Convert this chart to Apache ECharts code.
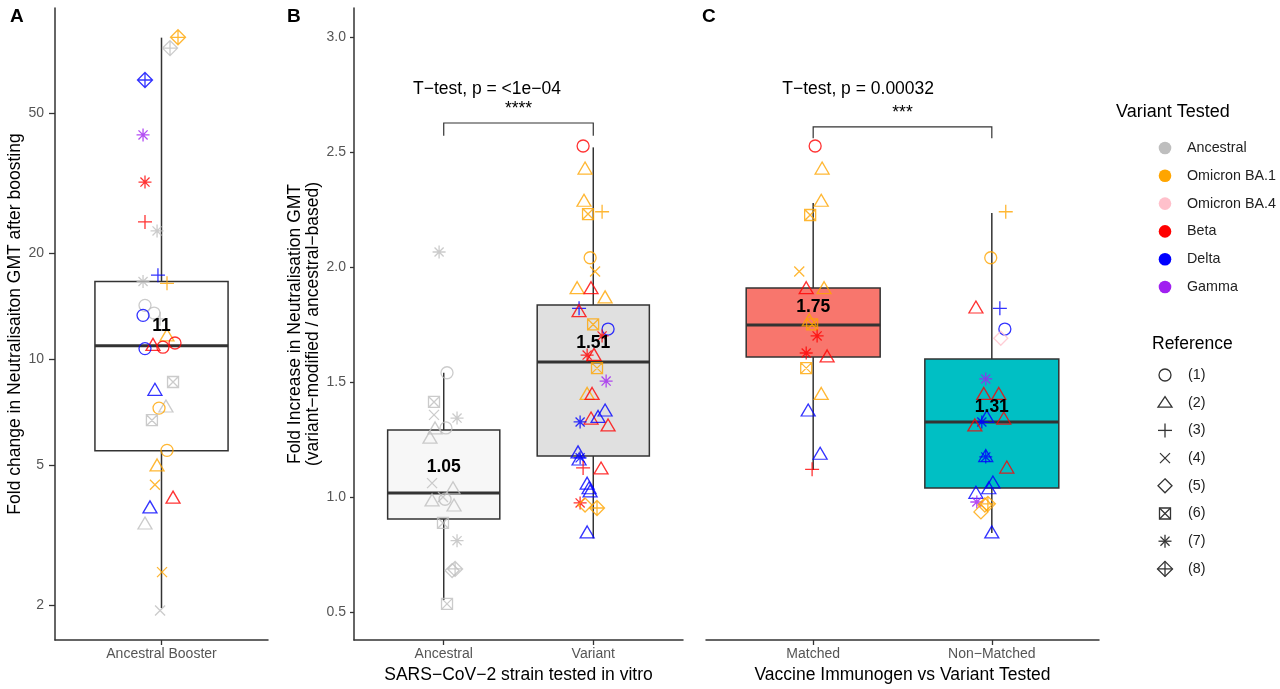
<!DOCTYPE html>
<html>
<head>
<meta charset="utf-8">
<script src="https://cdn.jsdelivr.net/npm/echarts@6/dist/echarts.min.js"></script>
<style>html,body{margin:0;padding:0;background:#fff}#chart{width:1280px;height:689px}</style>
</head>
<body>
<div id="chart"></div>
<script>
// ---------------- DATA ----------------
const variantCodes = ['Anc', 'BA.1', 'BA.4', 'Beta', 'Delta', 'Gamma'];
const variantNames = ['Ancestral', 'Omicron BA.1', 'Omicron BA.4', 'Beta', 'Delta', 'Gamma'];
const variantColors = ['#BEBEBE', '#FFA500', '#FFC0CB', '#FF0000', '#0000FF', '#A020F0'];
const referenceLabels = ['(1)', '(2)', '(3)', '(4)', '(5)', '(6)', '(7)', '(8)'];

// Panel A: fold change after ancestral booster (log scale)
const A_categories = ['Ancestral Booster'];
const A_ticks = [2, 5, 10, 20, 50];
const A_variant = ['BA.1','Anc','Delta','Gamma','Beta','Beta','Anc','Anc','Delta','BA.1','Anc','Anc','Delta','Anc','BA.1','Beta','Delta','Beta','Beta','Anc','Delta','Anc','BA.1','Anc','BA.1','BA.1','BA.1','Beta','Delta','Anc','BA.1','Anc'];
const A_reference = [8,8,8,7,7,3,7,7,3,3,1,1,1,3,2,2,1,1,1,6,2,2,1,6,1,2,4,2,2,2,4,4];
const A_fold = [82,76.4,62,43.3,31.8,24.5,23.1,16.6,17.3,16.4,14.2,13.5,13.3,13.0,11.7,11.0,10.7,10.8,11.1,8.6,8.2,7.35,7.25,6.7,5.5,5.0,4.39,4.05,3.8,3.42,2.48,1.93];
const A_group = A_fold.map(() => 1);
const A_jitter = [0.093,0.048,-0.093,-0.104,-0.093,-0.093,-0.025,-0.104,-0.020,0.031,-0.093,-0.042,-0.104,-0.008,0.031,-0.048,-0.093,0.008,0.076,0.065,-0.037,0.025,-0.014,-0.054,0.031,-0.025,-0.037,0.065,-0.065,-0.093,0.003,-0.008];
const A_boxStats = [[1.96, 5.49, 10.9, 16.6, 81.8]];
const A_meanText = ['11'];
const A_meanAt = [12.4];

// Panel B: strain tested in vitro
const B_categories = ['Ancestral', 'Variant'];
const BC_ticks = [0.5, 1.0, 1.5, 2.0, 2.5, 3.0];
const B_variant = [
  'Anc','Anc','Anc','Anc','Anc','Anc','Anc','Anc','Anc','Anc','Anc','Anc','Anc','Anc','Anc','Anc','Anc','Anc','Anc',
  'Beta','BA.1','BA.1','BA.1','BA.1','BA.1','BA.1','BA.1','Beta','BA.1','Delta','Beta','BA.1','Delta','Beta','Beta','Beta','BA.1','Gamma','BA.1',
  'Beta','Delta','Beta','Delta','Delta','Beta','Delta','Delta','Delta','Beta','Beta','Delta','Delta','Delta','Beta','BA.1','BA.1','Delta'];
const B_reference = [
  7,1,6,4,7,2,1,2,4,2,2,4,2,1,6,7,8,5,6,
  1,2,2,6,3,1,4,2,2,2,3,2,6,1,7,7,2,6,7,2,
  2,2,2,2,7,2,2,2,7,3,2,2,2,2,7,5,8,2];
const B_fold = [
  2.065,1.54,1.413,1.357,1.343,1.30,1.30,1.26,1.06,1.04,0.987,1.0,0.965,0.99,0.887,0.81,0.687,0.68,0.535,
  2.526,2.43,2.29,2.23,2.24,2.04,1.98,1.91,1.91,1.87,1.82,1.81,1.75,1.73,1.70,1.617,1.62,1.56,1.504,1.45,
  1.45,1.378,1.343,1.35,1.326,1.313,1.196,1.165,1.17,1.126,1.126,1.06,1.026,1.04,0.974,0.965,0.952,0.848];
const B_group = [
  1,1,1,1,1,1,1,1,1,1,1,1,1,1,1,1,1,1,1,
  2,2,2,2,2,2,2,2,2,2,2,2,2,2,2,2,2,2,2,2,
  2,2,2,2,2,2,2,2,2,2,2,2,2,2,2,2,2,2];
const B_jitter = [
  -0.031,0.022,-0.065,-0.065,0.089,-0.058,0.015,-0.092,-0.078,0.062,-0.078,-0.005,0.069,0.009,-0.005,0.089,0.076,0.056,0.022,
  -0.068,-0.055,-0.062,-0.035,0.059,-0.021,0.012,-0.108,-0.015,0.079,-0.095,-0.095,-0.001,0.099,0.059,-0.041,0.005,0.025,0.086,-0.041,
  -0.008,0.079,-0.015,0.032,-0.088,0.099,-0.102,-0.095,-0.088,-0.068,0.052,-0.041,-0.021,-0.028,-0.088,-0.055,0.025,-0.041];
const B_boxStats = [[0.552, 0.904, 1.017, 1.291, 1.54], [0.82, 1.178, 1.587, 1.835, 2.52]];
const B_meanText = ['1.05', '1.51'];
const B_meanAt = [1.13, 1.67];
const B_testText = 'T\u2212test, p = <1e\u221204';
const B_stars = '****';

// Panel C: vaccine immunogen vs variant tested
const C_categories = ['Matched', 'Non\u2212Matched'];
const C_variant = [
  'Beta','BA.1','BA.1','BA.1','BA.1','Beta','BA.1','BA.1','BA.1','Beta','Beta','Beta','BA.1','BA.1','Delta','Delta','Beta',
  'BA.1','BA.1','Beta','Delta','Delta','BA.4','Gamma','Beta','Beta','Delta','Delta','Beta','Beta','Delta','Delta','Beta','Delta','Delta','Delta','Gamma','BA.1','BA.1','BA.1','Delta'];
const C_reference = [
  1,2,2,6,4,2,2,6,2,7,7,2,6,2,2,2,3,
  3,1,2,3,1,5,7,2,2,2,7,2,2,7,2,2,2,2,2,7,5,8,5,2];
const C_fold = [
  2.526,2.43,2.29,2.226,1.98,1.91,1.91,1.75,1.77,1.70,1.626,1.613,1.56,1.45,1.378,1.19,1.12,
  2.24,2.04,1.826,1.82,1.73,1.69,1.513,1.45,1.45,1.35,1.326,1.313,1.343,1.174,1.18,1.13,1.065,1.02,1.04,0.978,0.965,0.97,0.935,0.848];
const C_group = [
  1,1,1,1,1,1,1,1,1,1,1,1,1,1,1,1,1,
  2,2,2,2,2,2,2,2,2,2,2,2,2,2,2,2,2,2,2,2,2,2,2,2,2];
const C_jitter = [
  0.011,0.050,0.045,-0.017,-0.078,-0.039,0.061,-0.006,-0.022,0.022,-0.039,0.078,-0.039,0.045,-0.028,0.039,-0.006,
  0.078,-0.006,-0.089,0.045,0.073,0.050,-0.034,-0.045,0.039,-0.028,-0.056,-0.095,0.067,-0.034,-0.034,0.084,0.006,-0.089,-0.017,-0.084,-0.039,-0.022,-0.061,0.000];
const C_boxStats = [[1.117, 1.609, 1.748, 1.909, 2.278], [0.843, 1.039, 1.326, 1.6, 2.235]];
const C_meanText = ['1.75', '1.31'];
const C_meanAt = [1.826, 1.391];
const C_testText = 'T\u2212test, p = 0.00032';
const C_stars = '***';

// ---------------- STYLE ----------------
const FONT = '"Liberation Sans", Arial, Helvetica, sans-serif';
const BOX_HALF = 0.375;
const A_boxFill = ['#FFFFFF'];
const B_boxFill = ['#F7F7F7', '#E0E0E0'];
const C_boxFill = ['#F8766D', '#00BFC4'];
const LINE = '#333333';

const refSymbols = {
  1: { path: 'M0,5A5,5,0,1,1,10,5A5,5,0,1,1,0,5Z', size: [12, 12] },
  2: { path: 'M5,0L10,8.66L0,8.66Z', size: [14, 12] },
  3: { path: 'M5,0L5,10M0,5L10,5', size: [14, 14] },
  4: { path: 'M0,0L10,10M10,0L0,10', size: [10, 10] },
  5: { path: 'M5,0L10,5L5,10L0,5Z', size: [14, 14] },
  6: { path: 'M0,0L10,0L10,10L0,10ZM0,0L10,10M10,0L0,10', size: [11, 11] },
  7: { path: 'M5,0L5,10M0,5L10,5M1.5,1.5L8.5,8.5M8.5,1.5L1.5,8.5', size: [13, 13] },
  8: { path: 'M5,0L10,5L5,10L0,5ZM5,0L5,10M0,5L10,5', size: [15, 15] }
};

function colorOf(code) { return variantColors[variantCodes.indexOf(code)]; }

function pointData(groups, jitter, values, variants, refs, transform) {
  return values.map((v, i) => ({
    value: [groups[i] + jitter[i], transform ? transform(v) : v],
    symbol: 'path://' + refSymbols[refs[i]].path,
    symbolSize: refSymbols[refs[i]].size,
    itemStyle: { color: 'rgba(0,0,0,0)', borderColor: colorOf(variants[i]), borderWidth: 1.3, opacity: 0.8 }
  }));
}

function boxRenderer(fills) {
  return function (params, api) {
    const x = api.value(0), lo = api.value(1), q1 = api.value(2), md = api.value(3), q3 = api.value(4), hi = api.value(5);
    const tl = api.coord([x - BOX_HALF, q3]), br = api.coord([x + BOX_HALF, q1]);
    const mL = api.coord([x - BOX_HALF, md]), mR = api.coord([x + BOX_HALF, md]);
    const wT = api.coord([x, hi]), w3 = api.coord([x, q3]), wB = api.coord([x, lo]), w1 = api.coord([x, q1]);
    const st = { stroke: LINE, lineWidth: 1.5 };
    return { type: 'group', children: [
      { type: 'line', shape: { x1: wT[0], y1: wT[1], x2: w3[0], y2: w3[1] }, style: st },
      { type: 'line', shape: { x1: wB[0], y1: wB[1], x2: w1[0], y2: w1[1] }, style: st },
      { type: 'rect', shape: { x: tl[0], y: tl[1], width: br[0] - tl[0], height: br[1] - tl[1] }, style: { fill: fills[params.dataIndex], stroke: LINE, lineWidth: 1.5 } },
      { type: 'line', shape: { x1: mL[0], y1: mL[1], x2: mR[0], y2: mR[1] }, style: { stroke: LINE, lineWidth: 3 } }
    ] };
  };
}

function textRenderer(texts, opts) {
  return function (params, api) {
    const p = api.coord([api.value(0), api.value(1)]);
    return { type: 'text', x: p[0], y: p[1], style: { text: texts[params.dataIndex], fill: '#000', font: opts.font, align: opts.align || 'center', verticalAlign: 'middle' } };
  };
}

function bracketRenderer(params, api) {
  const x1 = api.value(0), x2 = api.value(1), yT = api.value(2), yK = api.value(3);
  const pts = [api.coord([x1, yK]), api.coord([x1, yT]), api.coord([x2, yT]), api.coord([x2, yK])];
  return { type: 'polyline', shape: { points: pts }, style: { stroke: LINE, lineWidth: 1.2, fill: null } };
}

function boxSeriesData(stats, transform) {
  return stats.map((s, i) => [i + 1].concat(s.map(v => transform ? transform(v) : v)));
}

function xAxisCfg(gridIndex, cats, name) {
  const ticks = cats.map((_, i) => i + 1);
  return {
    type: 'value', gridIndex, min: 0.4, max: cats.length + 0.6,
    splitLine: { show: false },
    axisLine: { show: true, onZero: false, lineStyle: { color: LINE, width: 1.5 } },
    axisTick: { show: true, customValues: ticks, length: 5, lineStyle: { color: LINE, width: 1.3 } },
    axisLabel: { customValues: ticks, formatter: v => cats[Math.round(v) - 1], color: '#555', fontSize: 14, margin: 7, fontFamily: FONT },
    name: name, nameLocation: 'middle', nameGap: 24,
    nameTextStyle: { fontSize: 17.5, color: '#000', fontFamily: FONT, verticalAlign: 'top' }
  };
}

const log10 = v => Math.log10(v);

// legend symbols built from graphic primitives (same outlines as the point symbols)
function legendSymbol(ref, cx, cy) {
  const s = refSymbols[ref];
  const sx = s.size[0] / 10, sy = s.size[1] / 10;
  const x0 = cx - s.size[0] / 2, y0 = cy - s.size[1] / 2;
  const style = { fill: 'none', stroke: '#333', lineWidth: 1.3 };
  if (ref === 1) return [{ type: 'circle', shape: { cx, cy, r: s.size[0] / 2 }, style }];
  const els = [];
  s.path.split('M').filter(Boolean).forEach(seg => {
    const closed = /Z/.test(seg);
    const pts = seg.replace('Z', '').split('L').map(p => {
      const [a, b] = p.split(',').map(Number);
      return [x0 + a * sx, y0 + b * sy];
    });
    els.push({ type: closed ? 'polygon' : 'polyline', shape: { points: pts }, style });
  });
  return els;
}

const option = {
  animation: false,
  textStyle: { fontFamily: FONT },
  grid: [
    { left: 55, top: 8, width: 213, height: 632 },
    { left: 354, top: 8, width: 329, height: 632 },
    { left: 706, top: 8, width: 393, height: 632 }
  ],
  xAxis: [
    xAxisCfg(0, A_categories, ''),
    xAxisCfg(1, B_categories, 'SARS\u2212CoV\u22122 strain tested in vitro'),
    xAxisCfg(2, C_categories, 'Vaccine Immunogen vs Variant Tested')
  ],
  yAxis: [
    {
      type: 'value', gridIndex: 0, min: 0.2016, max: 1.997,
      splitLine: { show: false },
      axisLine: { show: true, onZero: false, lineStyle: { color: LINE, width: 1.5 } },
      axisTick: { show: true, customValues: A_ticks.map(log10), length: 6, lineStyle: { color: LINE, width: 1.3 } },
      axisLabel: { customValues: A_ticks.map(log10), formatter: v => String(Math.round(Math.pow(10, v))), color: '#555', fontSize: 14, margin: 11 },
      name: 'Fold change in Neutralisaiton GMT after boosting', nameLocation: 'middle', nameRotate: 90, nameGap: 27,
      nameTextStyle: { fontSize: 17.5, color: '#000', fontFamily: FONT }
    },
    {
      type: 'value', gridIndex: 1, min: 0.378, max: 3.126,
      splitLine: { show: false },
      axisLine: { show: true, onZero: false, lineStyle: { color: LINE, width: 1.5 } },
      axisTick: { show: true, customValues: BC_ticks, length: 4, lineStyle: { color: LINE, width: 1.3 } },
      axisLabel: { customValues: BC_ticks, formatter: v => v.toFixed(1), color: '#555', fontSize: 14, margin: 8 },
      name: 'Fold Increase in Neutralisation GMT\n(variant\u2212modified / ancestral\u2212based)', nameLocation: 'middle', nameRotate: 90, nameGap: 31,
      nameTextStyle: { fontSize: 17.5, color: '#000', fontFamily: FONT, lineHeight: 18 }
    },
    {
      type: 'value', gridIndex: 2, min: 0.378, max: 3.126,
      splitLine: { show: false },
      axisLine: { show: false },
      axisTick: { show: false }, axisLabel: { show: false }
    }
  ],
  series: [
    { type: 'custom', xAxisIndex: 0, yAxisIndex: 0, z: 1, silent: true, renderItem: boxRenderer(A_boxFill), data: boxSeriesData(A_boxStats, log10) },
    { type: 'custom', xAxisIndex: 1, yAxisIndex: 1, z: 1, silent: true, renderItem: boxRenderer(B_boxFill), data: boxSeriesData(B_boxStats) },
    { type: 'custom', xAxisIndex: 2, yAxisIndex: 2, z: 1, silent: true, renderItem: boxRenderer(C_boxFill), data: boxSeriesData(C_boxStats) },
    { type: 'scatter', xAxisIndex: 0, yAxisIndex: 0, z: 2, silent: true, data: pointData(A_group, A_jitter, A_fold, A_variant, A_reference, log10) },
    { type: 'scatter', xAxisIndex: 1, yAxisIndex: 1, z: 2, silent: true, data: pointData(B_group, B_jitter, B_fold, B_variant, B_reference) },
    { type: 'scatter', xAxisIndex: 2, yAxisIndex: 2, z: 2, silent: true, data: pointData(C_group, C_jitter, C_fold, C_variant, C_reference) },
    { type: 'custom', xAxisIndex: 0, yAxisIndex: 0, z: 3, silent: true, renderItem: textRenderer(A_meanText, { font: 'bold 17.5px ' + FONT }), data: A_meanAt.map((v, i) => [i + 1, log10(v)]) },
    { type: 'custom', xAxisIndex: 1, yAxisIndex: 1, z: 3, silent: true, renderItem: textRenderer(B_meanText, { font: 'bold 17.5px ' + FONT }), data: B_meanAt.map((v, i) => [i + 1, v]) },
    { type: 'custom', xAxisIndex: 2, yAxisIndex: 2, z: 3, silent: true, renderItem: textRenderer(C_meanText, { font: 'bold 17.5px ' + FONT }), data: C_meanAt.map((v, i) => [i + 1, v]) },
    { type: 'custom', xAxisIndex: 1, yAxisIndex: 1, z: 3, silent: true, renderItem: bracketRenderer, data: [[1, 2, 2.626, 2.57]] },
    { type: 'custom', xAxisIndex: 2, yAxisIndex: 2, z: 3, silent: true, renderItem: bracketRenderer, data: [[1, 2, 2.609, 2.56]] },
    { type: 'custom', xAxisIndex: 1, yAxisIndex: 1, z: 3, silent: true, renderItem: textRenderer([B_testText], { font: '17.5px ' + FONT, align: 'left' }), data: [[0.795, 2.774]] },
    { type: 'custom', xAxisIndex: 1, yAxisIndex: 1, z: 3, silent: true, renderItem: textRenderer([B_stars], { font: '17.5px ' + FONT }), data: [[1.5, 2.685]] },
    { type: 'custom', xAxisIndex: 2, yAxisIndex: 2, z: 3, silent: true, renderItem: textRenderer([C_testText], { font: '17.5px ' + FONT, align: 'left' }), data: [[0.827, 2.774]] },
    { type: 'custom', xAxisIndex: 2, yAxisIndex: 2, z: 3, silent: true, renderItem: textRenderer([C_stars], { font: '17.5px ' + FONT }), data: [[1.5, 2.67]] }
  ],
  graphic: []
};

[['A', 10], ['B', 287], ['C', 702]].forEach(([t, x]) => {
  option.graphic.push({ type: 'text', x: x, y: 17, style: { text: t, font: 'bold 19px ' + FONT, fill: '#000', verticalAlign: 'middle' } });
});

option.graphic.push({ type: 'text', x: 1116, y: 112, style: { text: 'Variant Tested', font: '18px ' + FONT, fill: '#000', verticalAlign: 'middle' } });
variantNames.forEach((n, i) => {
  const cy = 148 + 27.8 * i;
  option.graphic.push({ type: 'circle', shape: { cx: 1165, cy: cy, r: 6.3 }, style: { fill: variantColors[i] } });
  option.graphic.push({ type: 'text', x: 1187, y: cy, style: { text: n, font: '14.3px ' + FONT, fill: '#222', verticalAlign: 'middle' } });
});

option.graphic.push({ type: 'text', x: 1152, y: 344, style: { text: 'Reference', font: '17.5px ' + FONT, fill: '#000', verticalAlign: 'middle' } });
referenceLabels.forEach((lab, i) => {
  const cy = 375 + 27.7 * i;
  legendSymbol(i + 1, 1165, cy).forEach(el => option.graphic.push(el));
  option.graphic.push({ type: 'text', x: 1188, y: cy, style: { text: lab, font: '14.3px ' + FONT, fill: '#222', verticalAlign: 'middle' } });
});

const chart = echarts.init(document.getElementById('chart'), null, { renderer: 'canvas' });
chart.setOption(option);
</script>
</body>
</html>
